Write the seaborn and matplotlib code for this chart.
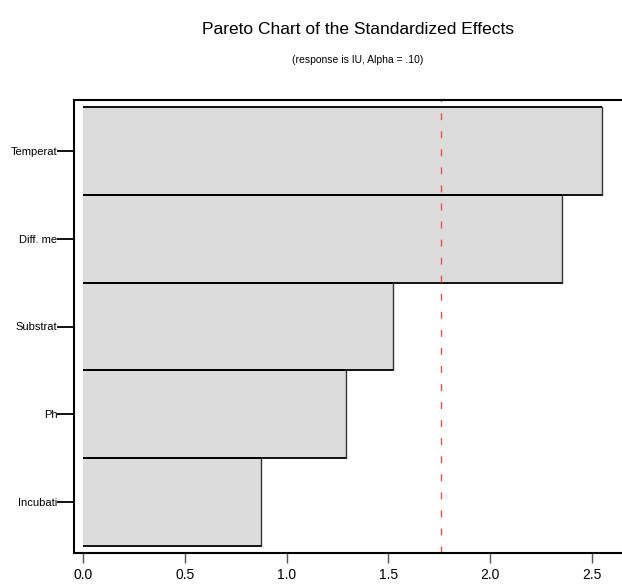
import matplotlib
matplotlib.use("Agg")
import matplotlib.pyplot as plt
import seaborn as sns
import pandas as pd

terms = ["Temperat", "Diff. me", "Substrat", "Ph", "Incubati"]
effects = [2.549, 2.353, 1.523, 1.292, 0.874]
critical = 1.76
xticks = [0.0, 0.5, 1.0, 1.5, 2.0, 2.5]

sns.set_style("white")
plt.rcParams["font.family"] = ["Liberation Sans Narrow", "Liberation Sans", "DejaVu Sans"]
plt.rcParams["text.color"] = "black"
plt.rcParams["xtick.labelcolor"] = "black"
plt.rcParams["ytick.labelcolor"] = "black"

df = pd.DataFrame({"term": terms, "effect": effects})

fig = plt.figure(figsize=(6.22, 5.84), dpi=100)
ax = fig.add_axes([74 / 622, 31 / 584, 1 - 74 / 622, (553 - 100) / 584])

sns.barplot(data=df, x="effect", y="term", orient="h", color="#dcdcdc",
            saturation=1, width=1.0, edgecolor="none", ax=ax)

for p in ax.patches:
    x0, y0 = p.get_x(), p.get_y()
    w, h = p.get_width(), p.get_height()
    ax.plot([x0, x0 + w], [y0, y0], color="black", lw=1.3, solid_capstyle="butt")
    ax.plot([x0, x0 + w], [y0 + h, y0 + h], color="black", lw=1.3, solid_capstyle="butt")
    ax.plot([x0 + w, x0 + w], [y0, y0 + h], color="#333333", lw=1.0)

ax.axvline(critical, color="#e8504a", lw=1.0, ls=(0, (5, 8)))

ax.set_xlim(-0.044, 2.647)
ax.set_ylim(4.58, -0.58)
ax.set_xticks(xticks)
ax.set_xticklabels([f"{v:.1f}" for v in xticks], fontsize=10, color="black")
ax.set_yticks(range(len(terms)))
ax.set_yticklabels(terms, color="black")
ax.set_xlabel("")
ax.set_ylabel("")
ax.tick_params(axis="y", length=12, width=1.3, color="black", labelsize=8, pad=0)
ax.tick_params(axis="x", length=7, width=1.0, color="#555555", pad=4)
ax.tick_params(axis="both", direction="out", bottom=True, left=True)

for side in ["left", "bottom", "top"]:
    ax.spines[side].set_visible(True)
    ax.spines[side].set_color("black")
    ax.spines[side].set_linewidth(1.5)
ax.spines["right"].set_visible(False)

fig.text(358 / 622, 1 - 30 / 584, "Pareto Chart of the Standardized Effects",
         ha="center", va="center", fontsize=12.5, color="black")
fig.text(358 / 622, 1 - 60 / 584, "(response is IU, Alpha = .10)",
         ha="center", va="center", fontsize=7.5, color="black")

fig.savefig("out.png", dpi=100)
